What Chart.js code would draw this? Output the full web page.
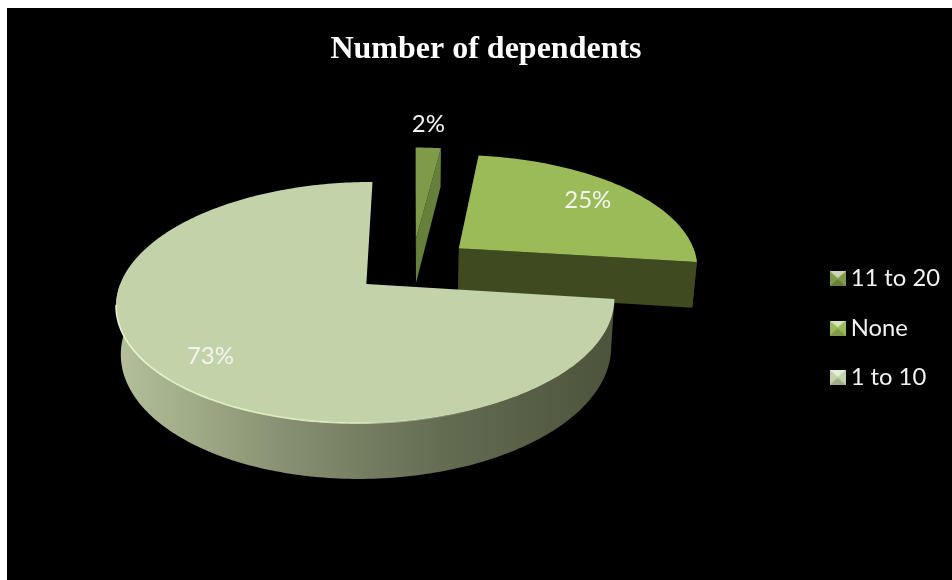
<!DOCTYPE html>
<html>
<head>
<meta charset="utf-8">
<style>
  html, body { margin: 0; padding: 0; background: #fff; overflow: hidden; }
  #wrap { position: absolute; left: 7px; top: 8px; width: 945px; height: 572px; background: #000; }
</style>
<script src="https://cdn.jsdelivr.net/npm/chart.js@4"></script>
</head>
<body>
<div id="wrap"><canvas id="pie" width="945" height="572"></canvas></div>
<script>
const categories = ["11 to 20", "None", "1 to 10"];
const shares = [2, 25, 73];

const topColors = ["#7f9a48", "#9bbb59", "#c3d3a9"];
const wallColors = ["#66803c", "#3f4a21", null];
const explode = [0.245, 0.25, 0.25];
const labelReach = [1.3, 0.76, 0.76];
const labelNudge = [[-3, 0], [0, -1], [0, 8]];
const legendDrop = 38;

// fake 3d view, everything below goes through this
const view = { cx: 405.5, cy: 257, rx: 240, ry: 112, persp: 0.15, depth: 46, taper: 0.016 };

function project(theta, u, z, mid, d) {
  let X = u * Math.sin(theta) + d * Math.sin(mid);
  let Y = u * Math.cos(theta) + d * Math.cos(mid);
  let s = 1 / (1 + view.persp * Y);
  let f = 1 - view.taper * z;
  return {
    x: view.cx + view.rx * X * s * f,
    y: view.cy - view.ry * Y * s + z * view.depth * s,
  };
}

function rimPoints(a0, a1, z, mid, d) {
  let pts = [];
  let n = Math.max(2, Math.ceil(((a1 - a0) * 180) / Math.PI));
  for (let i = 0; i <= n; i++) {
    pts.push(project(a0 + ((a1 - a0) * i) / n, 1, z, mid, d));
  }
  return pts;
}

function tracePts(ctx, pts) {
  ctx.beginPath();
  pts.forEach((p, i) => (i ? ctx.lineTo(p.x, p.y) : ctx.moveTo(p.x, p.y)));
  ctx.closePath();
}

function wallFill(ctx, index) {
  if (wallColors[index]) return wallColors[index];
  let g = ctx.createLinearGradient(105, 0, 610, 0);
  g.addColorStop(0, "#b5c29c");
  g.addColorStop(0.35, "#868f70");
  g.addColorStop(0.65, "#646c52");
  g.addColorStop(1, "#4b533a");
  return g;
}

// arcs keep the angles the library worked out, only the way they are painted changes
Chart.ArcElement.prototype.draw = function (ctx) {
  let index = this.$context.dataIndex;
  let a0 = this.startAngle + Math.PI / 2;
  let a1 = this.endAngle + Math.PI / 2;
  let mid = (a0 + a1) / 2;
  let d = explode[index];
  let topRim = rimPoints(a0, a1, 0, mid, d);
  let lowRim = rimPoints(a0, a1, 1, mid, d);
  let apexTop = project(0, 0, 0, mid, d);
  let apexLow = project(0, 0, 1, mid, d);

  ctx.save();
  ctx.fillStyle = wallFill(ctx, index);
  // cut faces, the big slice hides its own
  if (index !== 2) {
    tracePts(ctx, [apexTop, topRim[0], lowRim[0], apexLow]);
    ctx.fill();
    tracePts(ctx, [apexTop, topRim[topRim.length - 1], lowRim[lowRim.length - 1], apexLow]);
    ctx.fill();
  }
  // outer wall, front half only
  let f0 = Math.max(a0, Math.PI / 2);
  let f1 = Math.min(a1, (3 * Math.PI) / 2);
  if (f1 > f0) {
    tracePts(ctx, rimPoints(f0, f1, 0, mid, d).concat(rimPoints(f0, f1, 1, mid, d).reverse()));
    ctx.fill();
  }
  // top
  ctx.fillStyle = this.options.backgroundColor;
  tracePts(ctx, [apexTop].concat(topRim));
  ctx.fill();
  if (index === 2) {
    let g = ctx.createLinearGradient(110, 0, 480, 0);
    g.addColorStop(0, "rgba(236,248,208,0.95)");
    g.addColorStop(0.6, "rgba(236,248,208,0.8)");
    g.addColorStop(1, "rgba(236,248,208,0)");
    let front = topRim.filter((p, i) => i < topRim.length * 0.62);
    ctx.strokeStyle = g;
    ctx.lineWidth = 1.6;
    ctx.beginPath();
    front.forEach((p, i) => (i ? ctx.lineTo(p.x, p.y) : ctx.moveTo(p.x, p.y)));
    ctx.stroke();
  }
  ctx.restore();
};

const sliceLabels = {
  id: "sliceLabels",
  afterLayout(chart) {
    chart.legend.top += legendDrop;
    chart.legend.bottom += legendDrop;
  },
  afterDatasetsDraw(chart) {
    let ctx = chart.ctx;
    ctx.save();
    ctx.fillStyle = "#f4f4f0";
    ctx.font = "24px Lato";
    ctx.textAlign = "center";
    ctx.textBaseline = "middle";
    chart.getDatasetMeta(0).data.forEach((arc, i) => {
      let mid = (arc.startAngle + arc.endAngle) / 2 + Math.PI / 2;
      let p = project(mid, labelReach[i], 0, mid, explode[i]);
      ctx.fillText(shares[i] + "%", p.x + labelNudge[i][0], p.y + labelNudge[i][1]);
    });
    ctx.restore();
  },
};

function bevelMarker(color) {
  let c = document.createElement("canvas");
  c.width = 16;
  c.height = 15;
  let m = c.getContext("2d");
  m.fillStyle = color;
  m.fillRect(0, 0, 16, 15);
  m.fillStyle = "rgba(255,255,255,0.6)";
  m.beginPath();
  m.moveTo(0, 0);
  m.lineTo(16, 0);
  m.lineTo(8, 7);
  m.fill();
  m.fillStyle = "rgba(0,0,0,0.18)";
  m.beginPath();
  m.moveTo(0, 15);
  m.lineTo(16, 15);
  m.lineTo(8, 8);
  m.fill();
  return c;
}

new Chart(document.getElementById("pie"), {
  type: "pie",
  data: {
    labels: categories,
    datasets: [{ data: shares, backgroundColor: topColors, borderWidth: 0, hoverOffset: 0 }],
  },
  plugins: [sliceLabels],
  options: {
    responsive: false,
    animation: false,
    layout: { padding: { left: 15, right: 2, bottom: 8 } },
    plugins: {
      tooltip: { enabled: false },
      title: {
        display: true,
        text: "Number of dependents",
        color: "#ffffff",
        font: { family: "Liberation Serif", size: 32, weight: "bold" },
        padding: { top: 23, bottom: 10 },
      },
      legend: {
        position: "right",
        labels: {
          color: "#f2f2f2",
          font: { family: "Lato", size: 23.8 },
          usePointStyle: true,
          pointStyleWidth: 2,
          padding: 25.5,
          generateLabels(chart) {
            return categories.map((name, i) => ({
              text: name,
              fontColor: "#f2f2f2",
              fillStyle: topColors[i],
              strokeStyle: topColors[i],
              lineWidth: 0,
              pointStyle: bevelMarker(topColors[i]),
              index: i,
            }));
          },
        },
      },
    },
  },
});
</script>
</body>
</html>
